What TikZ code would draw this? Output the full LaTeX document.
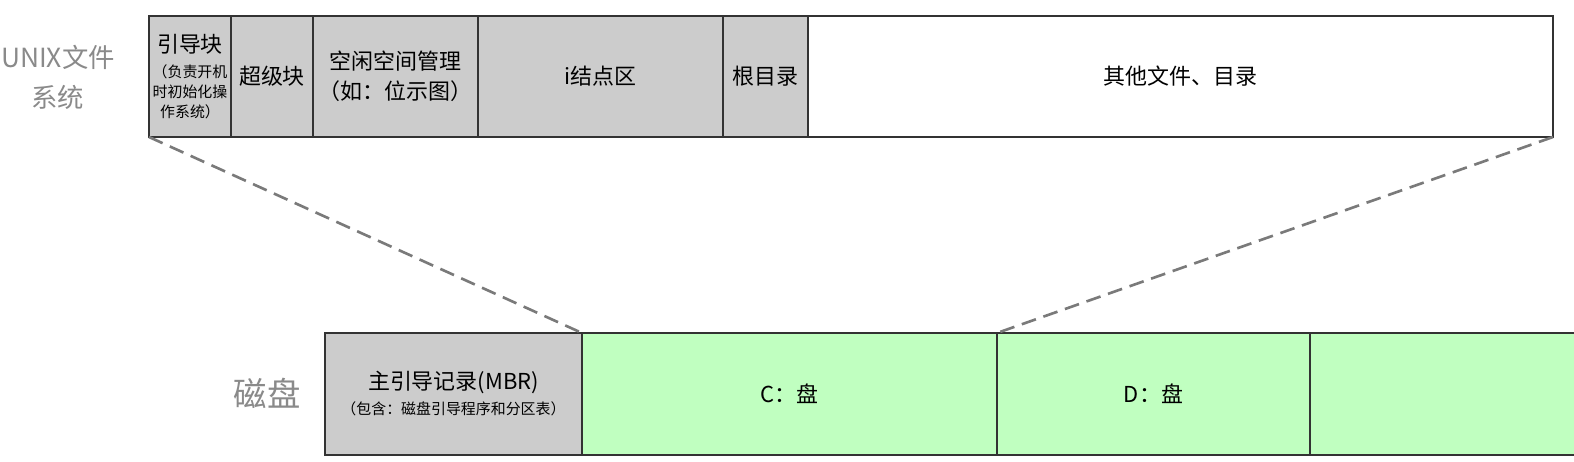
\documentclass[tikz,border=0pt]{standalone}
\usepackage{fontspec}
\setmainfont{Noto Sans CJK SC}
\usepackage{tikz}
\usetikzlibrary{positioning}
\definecolor{diskgray}{HTML}{CCCCCC}
\definecolor{partgreen}{HTML}{C0FFC0}
\definecolor{linegray}{HTML}{7A7A7A}
\definecolor{labelgray}{HTML}{8A8A8A}
\definecolor{edgedark}{HTML}{333333}
\newcommand{\bigtxt}{\fontsize{12.5}{17}\selectfont}
\newcommand{\smalltxt}{\fontsize{8.5}{11.3}\selectfont}
\tikzset{
  blk/.style={draw=edgedark, line width=1pt, fill=diskgray, minimum height=2.42cm,
              inner sep=0pt, outer sep=0pt, align=center, font=\bigtxt},
  part/.style={blk, fill=partgreen, minimum height=2.44cm},
  sidelabel/.style={text=labelgray, align=center},
  zoomline/.style={draw=linegray, line width=1.5pt, dash pattern=on 8.5pt off 4.5pt}
}

\begin{document}
\begin{tikzpicture}
    \clip (0,0) rectangle (31.48,-9.24);

    % UNIX file system
    \node[sidelabel, font=\fontsize{15}{22.7}\selectfont] (fslabel) at (1.16,-1.54) {UNIX文件\\系统};
    \node[blk, minimum width=1.64cm, font=\smalltxt] (boot) at (3.80,-1.53)
        {{\bigtxt 引导块}\\[3.2pt]（负责开机\\时初始化操\\作系统）};
    \node[blk, minimum width=1.64cm, right=0pt of boot] (super) {超级块};
    \node[blk, minimum width=3.30cm, right=0pt of super] (freemgr) {空闲空间管理\\（如：位示图）};
    \node[blk, minimum width=4.90cm, right=0pt of freemgr] (inode) {i结点区};
    \node[blk, minimum width=1.70cm, right=0pt of inode] (rootdir) {根目录};
    \node[blk, minimum width=14.90cm, fill=white, right=0pt of rootdir] (others) {其他文件、目录};

    % disk
    \node[sidelabel, font=\fontsize{19}{22}\selectfont] (disklabel) at (5.34,-7.86) {磁盘};
    \node[blk, minimum width=5.14cm, minimum height=2.44cm, font=\smalltxt] (mbr) at (9.07,-7.88)
        {{\bigtxt 主引导记录(MBR)}\\[2.9pt]（包含：磁盘引导程序和分区表）};
    \node[part, minimum width=8.30cm, right=0pt of mbr] (cpart) {C：盘};
    \node[part, minimum width=6.26cm, right=0pt of cpart] (dpart) {D：盘};
    \node[part, minimum width=7.00cm, right=0pt of dpart] (epart) {};

    \draw[zoomline] (boot.south west) -- (mbr.north east);
    \draw[zoomline] (others.south east) -- (cpart.north east);
\end{tikzpicture}
\end{document}
